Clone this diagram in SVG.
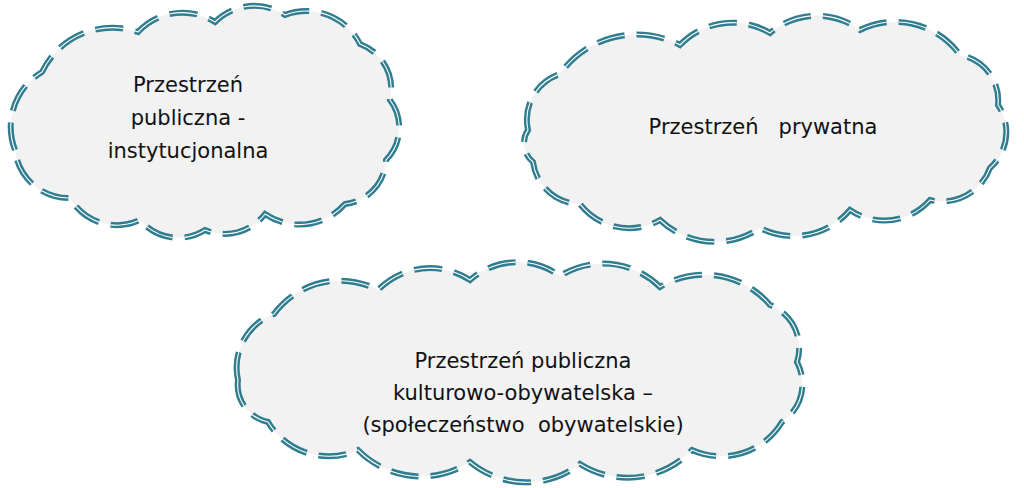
<svg xmlns="http://www.w3.org/2000/svg" width="1024" height="488" viewBox="0 0 1024 488">
<style>
.c{fill:#f2f2f2;stroke:#2f7d8f;stroke-width:6;stroke-dasharray:28 12}
.w{fill:none;stroke:#ffffff;stroke-width:1.1;stroke-dasharray:28 12}
text{font-family:"DejaVu Sans","Liberation Sans",sans-serif;font-size:21px;fill:#111;text-anchor:middle}
</style>
<defs>
<path id="p1" d="M15,150 A64,64 0 0 1 42,72 A78,78 0 0 1 138,32 A61,61 0 0 1 215,22 A56,56 0 0 1 285,15 A60,60 0 0 1 360,44 A48,48 0 0 1 390,100 A46,46 0 0 1 386,160 A46,46 0 0 1 345,204 A61,61 0 0 1 265,214 A51,51 0 0 1 205,230 A50,50 0 0 1 140,220 A54,54 0 0 1 70,198 A54,54 0 0 1 15,150 Z"/>
<path id="p2" d="M528,130 A48,48 0 0 1 560,74 A94,94 0 0 1 680,45 A73,73 0 0 1 770,33 A72,72 0 0 1 860,30 A80,80 0 0 1 960,55 A46,46 0 0 1 998,105 A48,48 0 0 1 990,168 A51,51 0 0 1 930,200 A61,61 0 0 1 850,210 A74,74 0 0 1 760,228 A80,80 0 0 1 660,220 A62,62 0 0 1 580,204 A48,48 0 0 1 533,162 A24,24 0 0 1 528,130 Z"/>
<path id="p3" d="M238,380 A57,57 0 0 1 274,314 A82,82 0 0 1 378,290 A73,73 0 0 1 470,280 A72,72 0 0 1 560,276 A81,81 0 0 1 660,287 A86,86 0 0 1 770,305 A46,46 0 0 1 797,362 A46,46 0 0 1 782,422 A71,71 0 0 1 692,450 A89,89 0 0 1 580,464 A88,88 0 0 1 470,462 A89,89 0 0 1 358,450 A71,71 0 0 1 268,422 A38,38 0 0 1 238,380 Z"/>
</defs>
<g id="node1"><use href="#p1" class="c"/><use href="#p1" class="w"/>
<text x="188" y="92">Przestrzeń</text><text x="188" y="125">publiczna -</text><text x="188" y="158">instytucjonalna</text></g>
<g id="node2"><use href="#p2" class="c"/><use href="#p2" class="w"/>
<text x="763" y="134" xml:space="preserve">Przestrzeń   prywatna</text></g>
<g id="node3"><use href="#p3" class="c"/><use href="#p3" class="w"/>
<text x="523" y="368">Przestrzeń publiczna</text><text x="523" y="400">kulturowo-obywatelska –</text><text x="523" y="432" xml:space="preserve">(społeczeństwo  obywatelskie)</text></g>
<g id="connectors"/>
</svg>
